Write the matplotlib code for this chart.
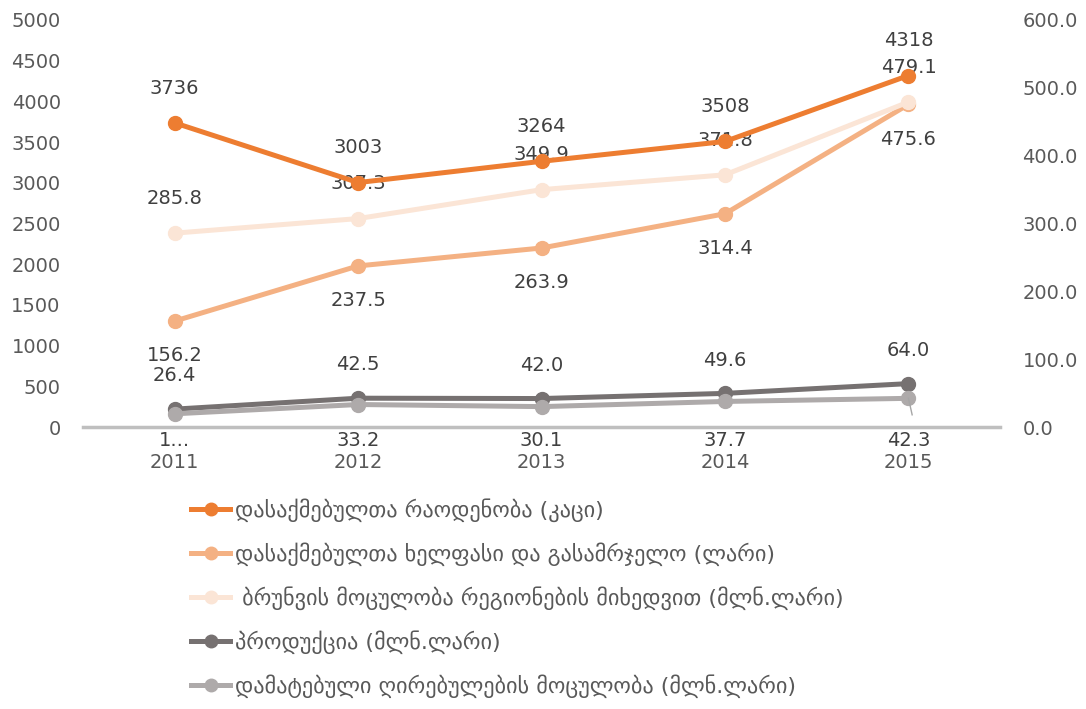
import matplotlib.pyplot as plt
from matplotlib.lines import Line2D

plt.rcParams['font.family'] = ['DejaVu Sans']

years = ["2011", "2012", "2013", "2014", "2015"]

employed = [3736, 3003, 3264, 3508, 4318]
salary = [156.2, 237.5, 263.9, 314.4, 475.6]
turnover = [285.8, 307.3, 349.9, 371.8, 479.1]
production = [26.4, 42.5, 42.0, 49.6, 64.0]
added_value = [19.5, 33.2, 30.1, 37.7, 42.3]

names = [
    "დასაქმებულთა რაოდენობა (კაცი)",
    "დასაქმებულთა ხელფასი და გასამრჯელო (ლარი)",
    " ბრუნვის მოცულობა რეგიონების მიხედვით (მლნ.ლარი)",
    "პროდუქცია (მლნ.ლარი)",
    "დამატებული ღირებულების მოცულობა (მლნ.ლარი)",
]
colors = ["#ED7D31", "#F4B183", "#FBE5D6", "#767171", "#AEAAAA"]

TXT = "#404040"
TICK = "#595959"


def label_points(ax, xs, vals, fmt, dy):
  for x, v in zip(xs, vals):
    ax.annotate(fmt.format(v), (x, v), xytext=(0, dy), textcoords="offset points",
                ha="center", va="center", fontsize=14, color=TXT)


def main():
  fig = plt.figure(figsize=(10.86, 7.09), dpi=100)
  ax = fig.add_axes([0.0764, 0.3977, 0.8446, 0.5741])
  ax2 = ax.twinx()
  xs = list(range(len(years)))

  kw = dict(linewidth=3.6, marker="o", markersize=10, solid_capstyle="round")
  ax.plot(xs, employed, color=colors[0], zorder=5, **kw)
  ax2.plot(xs, salary, color=colors[1], **kw)
  ax2.plot(xs, turnover, color=colors[2], **kw)
  ax2.plot(xs, production, color=colors[3], **kw)
  ax2.plot(xs, added_value, color=colors[4], **kw)
  ax.set_zorder(ax2.get_zorder() + 1)
  ax.patch.set_visible(False)

  label_points(ax, xs, employed, "{:d}", 25)
  label_points(ax2, xs, salary, "{:.1f}", -25)
  label_points(ax2, xs, turnover, "{:.1f}", 25)
  label_points(ax2, xs, production, "{:.1f}", 24)
  # added value labels sit just under the axis line
  for x, v in zip(xs, added_value):
    txt = "1..." if x == 0 else "{:.1f}".format(v)
    ax2.text(x, -19.5, txt, ha="center", va="center", fontsize=14, color=TXT)
  ax2.plot([xs[-1], xs[-1] + 0.02], [added_value[-1], 18], color="#A6A6A6", linewidth=1)

  ax.set_xlim(-0.5, 4.5)
  ax.set_ylim(0, 5000)
  ax2.set_ylim(0, 600)
  ax.set_yticks(range(0, 5001, 500))
  ax2.set_yticks(range(0, 601, 100))
  ax2.set_yticklabels(["{:.1f}".format(v) for v in range(0, 601, 100)])
  ax.set_xticks(xs)
  ax.set_xticklabels(years)

  for a in (ax, ax2):
    for s in a.spines.values():
      s.set_visible(False)
    a.tick_params(length=0, labelsize=14, labelcolor=TICK)
  ax.spines["bottom"].set_visible(True)
  ax.spines["bottom"].set_color("#BFBFBF")
  ax.spines["bottom"].set_linewidth(2.5)
  ax.tick_params(axis="y", pad=16)
  ax2.tick_params(axis="y", pad=16)
  ax.tick_params(axis="x", pad=19)

  handles = [Line2D([], [], color=c, linewidth=3.6, marker="o", markersize=9) for c in colors]
  leg = fig.legend(handles, names, loc="upper left", bbox_to_anchor=(0.168, 0.310),
                   frameon=False, fontsize=16, handlelength=1.75, handletextpad=0.2,
                   labelspacing=0.92, borderaxespad=0)
  for t in leg.get_texts():
    t.set_color(TICK)

  fig.savefig("out.png", dpi=100)


if __name__ == "__main__":
  main()
